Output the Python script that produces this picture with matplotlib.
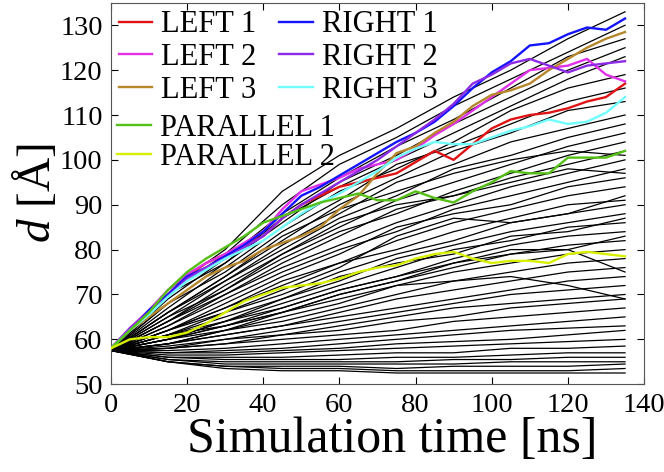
import numpy as np
import matplotlib
matplotlib.use('Agg')
import matplotlib.pyplot as plt

plt.rcParams['font.family'] = ['Liberation Serif', 'DejaVu Serif']
plt.rcParams['mathtext.fontset'] = 'custom'
plt.rcParams['mathtext.it'] = 'Liberation Serif:italic'
plt.rcParams['mathtext.rm'] = 'Liberation Serif'

# time grids (ns)
t_fine = np.arange(0, 136, 5)
t_coarse = np.arange(0, 136, 15)

# coloured runs, read every 5 ns
left1 = [58, 62, 66, 70, 74, 77, 79, 81, 83, 87, 90, 92, 94, 95, 96, 97, 99.5, 102,
         100, 103.5, 107, 109, 110, 110.5, 111.5, 113, 114, 117]
left2 = [58, 62.5, 66.5, 71, 74.5, 77, 79, 81.5, 84, 89, 93, 94.5, 96, 98, 99, 100,
         102.5, 105.5, 108, 111, 114, 117, 120, 120.5, 121, 122.5, 119, 117.5]
left3 = [58, 62, 65, 68, 71, 74, 76, 77.5, 80, 81.5, 83, 85, 89, 92, 97, 101.5, 103,
         106, 108.5, 112, 114.5, 115.5, 117, 120, 122.5, 125, 127, 128.5]
right1 = [58, 62, 66.5, 70, 74, 76, 78.5, 81, 84, 88, 92, 94, 96.5, 99, 101.5, 104,
          106, 108.5, 112, 116, 119.5, 122, 125.5, 126, 128, 129.5, 129, 131.5]
right2 = [58, 62.5, 66, 69.5, 73.5, 76, 78, 80.5, 83, 87, 90, 92.5, 95, 97.5, 100,
          103, 106, 109, 112.5, 117, 119, 121.5, 122.5, 121, 119.5, 121, 121.5, 122]
right3 = [58, 62, 65.5, 69.5, 73, 75.5, 78, 80, 82, 85, 88, 90.5, 92.5, 95, 97.5,
          100.5, 102.5, 104, 103.5, 103.5, 105, 106.5, 107.5, 109, 108, 108.5, 110.5, 114]
parallel1 = [58, 62, 66, 71, 75, 78, 80.5, 83, 86, 87.5, 89, 90.5, 91.5, 92.5, 91,
             91, 93, 91.5, 90.5, 93, 95, 97.5, 97, 97, 100.5, 100.5, 100.5, 102]
parallel2 = [58, 60, 60.5, 60.5, 61.5, 63.5, 66, 68.5, 70, 71.5, 72, 72.5, 73.5, 75,
             76, 76.5, 78, 79, 79.5, 78, 77, 77.5, 77.5, 77, 79, 79.5, 79, 78.5]

# black runs, read every 15 ns
black_upper = [
    [57.5, 71, 80, 93, 101, 107, 114, 120, 127, 133],
    [57.5, 70, 79, 90, 99, 105, 112, 118, 124, 130],
    [57.5, 69, 78, 88, 96, 103, 109, 116, 123, 127],
    [57.5, 70, 77, 86, 95, 101, 108, 114, 120, 125],
    [57.5, 68, 77, 87, 94, 100, 106, 112, 118, 123],
    [57.5, 67, 76, 85, 93, 98, 104, 111, 116, 119],
    [57.5, 68, 75, 84, 91, 99, 103, 108, 113, 116],
    [57.5, 66, 74, 82, 90, 96, 102, 106, 111, 113],
    [57.5, 66, 73, 81, 88, 95, 99, 104, 107, 110],
    [57.5, 65, 73, 80, 87, 92, 98, 101, 105, 108],
    [57.5, 64, 72, 79, 85, 91, 95, 99, 103, 106],
    [57.5, 65, 71, 78, 84, 88, 93, 97, 101, 104],
    [57.5, 63, 70, 77, 83, 89, 92, 96, 99, 102],
    [57.5, 64, 70, 76, 81, 86, 90, 94, 97, 100],
    [57.5, 66, 74, 83, 89, 93, 97, 100, 102, 101],
    [57.5, 64, 71, 79, 86, 90, 92, 95, 98, 97],
]
black_middle = [
    [57.5, 63, 69, 75, 80, 84, 89, 92, 95, 98],
    [57.5, 62, 68, 74, 79, 85, 88, 90, 94, 96],
    [57.5, 62, 67, 73, 77, 82, 86, 89, 92, 94],
    [57.5, 62, 66, 71, 76, 83, 87, 86, 88, 92],
    [57.5, 61, 66, 70, 75, 79, 82, 86, 88, 90],
    [57.5, 61, 65, 69, 73, 78, 81, 84, 86, 88],
    [57.5, 60, 64, 68, 72, 76, 80, 82, 85, 86],
    [57.5, 61, 63, 67, 71, 74, 78, 81, 83, 84],
    [57.5, 60, 63, 66, 70, 73, 76, 79, 81, 82],
    [57.5, 60, 62, 65, 68, 72, 75, 77, 79, 80],
    [57.5, 61, 64, 67, 71, 74, 77, 80, 80, 75],
    [57.5, 59, 62, 64, 67, 70, 73, 75, 77, 78],
    [57.5, 59, 61, 63, 66, 69, 71, 73, 75, 76],
    [57.5, 60, 63, 66, 69, 72, 73, 74, 72, 69],
    [57.5, 62, 67, 72, 77, 80, 84, 87, 90, 91],
    [57.5, 60, 64, 69, 74, 77, 79, 83, 84, 87],
    [57.5, 59, 62, 66, 70, 73, 77, 79, 80, 83],
]
black_lower = [
    [57.5, 59, 61, 63, 65, 67, 69, 71, 73, 74],
    [57.5, 58.5, 60, 62, 64, 66, 68, 70, 71, 72],
    [57.5, 58, 60, 61, 63, 65, 67, 68, 69, 70],
    [57.5, 58, 59, 61, 62, 64, 65, 67, 68, 69],
    [57.5, 58, 59, 60, 61, 62, 64, 65, 66, 67],
    [57.5, 57.5, 58, 59, 60, 61, 62, 63, 64, 65],
    [57.5, 57, 57.5, 58, 59, 60, 61, 62, 62.5, 63],
    [57.5, 57, 57, 57.5, 58, 59, 59.5, 60, 61, 62],
    [57.5, 56.5, 56.5, 57, 57.5, 58, 58.5, 59, 59.5, 60],
    [57.5, 56, 56, 56, 56.5, 57, 57, 58, 58, 58.5],
    [57.5, 56, 55.5, 55.5, 55.5, 56, 56, 56.5, 57, 57],
    [57.5, 55.5, 55, 55, 55, 55, 55.5, 55.5, 56, 56],
    [57.5, 55.5, 54.5, 54.5, 54.5, 54.5, 54.5, 55, 55, 55],
    [57.5, 55, 54, 54, 54, 53.5, 54, 54, 54, 54.5],
    [57.5, 55, 54, 53.5, 53.5, 53, 53, 53, 53, 53.5],
    [57.5, 55, 53.5, 53, 53, 52.5, 52.5, 52.5, 52.5, 52.5],
]

fig = plt.figure(figsize=(6.64, 4.72), dpi=100)
ax = fig.add_axes([0.167, 0.186, 0.803, 0.808])

for run in black_upper + black_middle + black_lower:
    ax.plot(t_coarse, run, color='black', lw=0.9, zorder=1)

l1, = ax.plot(t_fine, left1, color='#e01414', lw=1.7, zorder=3)
l2, = ax.plot(t_fine, left2, color='#e030e8', lw=1.7, zorder=3)
l3, = ax.plot(t_fine, left3, color='#b8862b', lw=1.7, zorder=3)
r1, = ax.plot(t_fine, right1, color='#1414ff', lw=1.7, zorder=3)
r2, = ax.plot(t_fine, right2, color='#8c2ae6', lw=1.7, zorder=3)
r3, = ax.plot(t_fine, right3, color='#70ffff', lw=1.7, zorder=3)
p1, = ax.plot(t_fine, parallel1, color='#55c015', lw=1.7, zorder=3)
p2, = ax.plot(t_fine, parallel2, color='#d8f000', lw=1.7, zorder=3)

ax.set_xlim(0, 140)
ax.set_ylim(50, 135)
ax.set_xticks(np.arange(0, 141, 20))
ax.set_yticks(np.arange(50, 131, 10))
ax.tick_params(direction='in', top=True, right=True, labelsize=20.5, length=5, pad=6)
for sp in ax.spines.values():
    sp.set_color('#555555')

ax.set_xlabel('Simulation time [ns]', fontsize=36, labelpad=0)
ax.xaxis.set_label_coords(0.527, -0.085, transform=ax.transAxes)
ax.xaxis.label.set_va('top')
ax.set_ylabel('$d$ [Å]', fontsize=34, labelpad=0)

leg1 = ax.legend([l1, l2, l3, r1, r2, r3],
                 ['LEFT 1', 'LEFT 2', 'LEFT 3', 'RIGHT 1', 'RIGHT 2', 'RIGHT 3'],
                 ncol=2, loc='upper left', bbox_to_anchor=(0.0, 1.0),
                 frameon=False, fontsize=22, handlelength=1.1,
                 handletextpad=0.3, labelspacing=0.12, columnspacing=0.75,
                 borderaxespad=0.0, borderpad=0.25)
ax.add_artist(leg1)
ax.legend([p1, p2], ['PARALLEL 1', 'PARALLEL 2'], loc='upper left',
          bbox_to_anchor=(0.0, 0.725), frameon=False, fontsize=22,
          handlelength=1.1, handletextpad=0.3, labelspacing=0.0,
          borderaxespad=0.0, borderpad=0.2)

fig.savefig('out.png', dpi=100)
